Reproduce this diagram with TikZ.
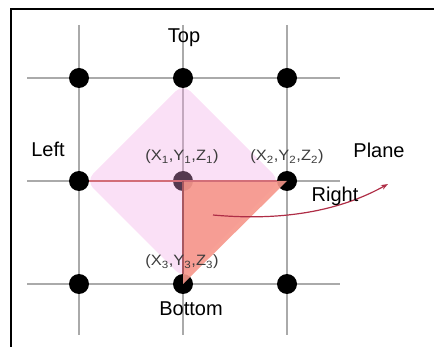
\documentclass[tikz,border=0pt]{standalone}
\usepackage{fontspec}
\setmainfont{Liberation Sans}
\usetikzlibrary{arrows.meta}
\definecolor{gridgrey}{RGB}{170,170,170}
\definecolor{planepink}{RGB}{242,165,228}
\definecolor{trianglesalmon}{RGB}{246,150,138}
\definecolor{edgered}{RGB}{210,110,120}
\definecolor{arrowred}{RGB}{175,45,70}
\definecolor{labelgrey}{RGB}{60,60,60}
\begin{document}
\begin{tikzpicture}[x=1pt,y=-1pt,
dot/.style={circle,fill=black,inner sep=0pt,minimum size=20pt},
gridline/.style={draw=gridgrey,line width=1.5pt},
side/.style={font=\fontsize{20}{22}\selectfont,inner sep=0pt,anchor=base},
coord/.style={font=\fontsize{15}{17}\selectfont,text=labelgrey,inner sep=0pt}
]
\useasboundingbox (0,0) rectangle (434,347);
% frame
\draw[line width=2pt] (11,347) -- (11,9) -- (434,9);

% grid
\foreach \y in {78,181,284}
    \draw[gridline] (27,\y) -- (340,\y);
\foreach \x in {79,183,287}
    \draw[gridline] (\x,25) -- (\x,335);

% grid points
\foreach \x/\c in {79/l,183/m,287/r}
    \foreach \y/\r in {78/t,181/c,284/b}
        \node[dot] (\r\c) at (\x,\y) {};

% plane
\fill[planepink,fill opacity=0.35,rounded corners=10pt]
    (183,84) -- (86,181) -- (183,278) -- (280,181) -- cycle;
\fill[trianglesalmon,fill opacity=0.9] (cm.center) -- (cr.center) -- (bm.center) -- cycle;
\draw[edgered,line width=1.5pt] (cl) -- (cm.center) -- (cr);
\draw[edgered!80!black,line width=1.5pt] (cm.center) -- (bm);

% arrow
\coordinate (arrowstart) at (213,215);
\coordinate (arrowend) at (388,184);
\draw[arrowred,line width=1.2pt,-{Stealth[length=7pt,width=5pt]}]
    (arrowstart) .. controls (290,222) and (345,208) .. (arrowend);

% labels
\node[side] (top) at (184,43) {Top};
\node[side] (left) at (48,157) {Left};
\node[side] (plane) at (379,158) {Plane};
\node[side] (right) at (335,202) {Right};
\node[side] (bottom) at (191,316) {Bottom};
\node[coord,xscale=1.1] (p1) at (182,157) {(X\textsubscript{1},Y\textsubscript{1},Z\textsubscript{1})};
\node[coord,xscale=1.1] (p2) at (287,157) {(X\textsubscript{2},Y\textsubscript{2},Z\textsubscript{2})};
\node[coord,xscale=1.1] (p3) at (182,262) {(X\textsubscript{3},Y\textsubscript{3},Z\textsubscript{3})};
\end{tikzpicture}
\end{document}
